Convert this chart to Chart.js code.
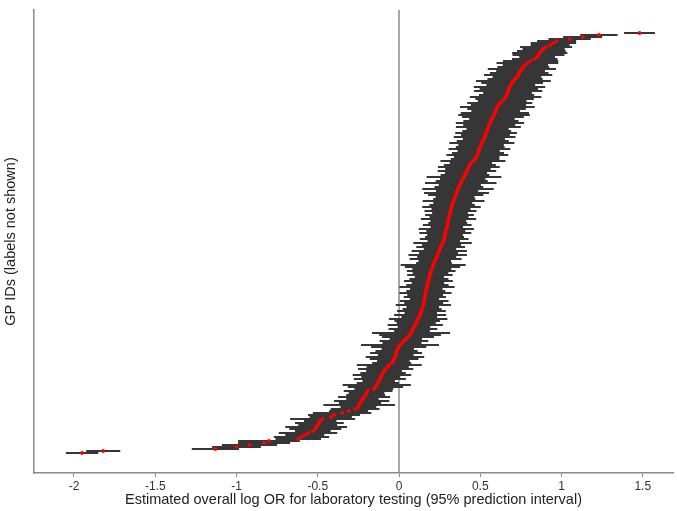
<!DOCTYPE html>
<html>
<head>
<meta charset="utf-8">
<script src="https://cdn.jsdelivr.net/npm/chart.js@4.4.0/dist/chart.umd.min.js"></script>
<style>
html,body{margin:0;padding:0;background:#fff;}
#c{display:block;}
</style>
</head>
<body>
<canvas id="c" width="677" height="511"></canvas>
<script>
// Estimated overall log OR per GP (sorted, bottom row first)
const estimates = [
-1.95,-1.82,-1.13,-1.00,-0.92,-0.83,-0.80,-0.62,-0.60,-0.58,
-0.56,-0.53,-0.515,-0.51,-0.50,-0.49,-0.485,-0.47,-0.42,-0.40,
-0.35,-0.31,-0.27,-0.25,-0.245,-0.24,-0.23,-0.225,-0.215,-0.205,
-0.20,-0.19,-0.155,-0.145,-0.137,-0.13,-0.125,-0.118,-0.112,-0.105,
-0.098,-0.092,-0.082,-0.070,-0.060,-0.045,-0.035,-0.030,-0.025,-0.020,
-0.018,-0.015,-0.008,-0.002,0.006,0.018,0.030,0.042,0.055,0.068,
0.074,0.080,0.086,0.092,0.100,0.106,0.112,0.118,0.125,0.130,
0.134,0.138,0.142,0.146,0.150,0.152,0.155,0.157,0.159,0.161,
0.163,0.165,0.168,0.172,0.175,0.178,0.181,0.184,0.187,0.190,
0.194,0.198,0.202,0.206,0.210,0.215,0.220,0.225,0.232,0.238,
0.243,0.248,0.252,0.256,0.262,0.268,0.275,0.278,0.280,0.283,
0.285,0.288,0.291,0.294,0.297,0.300,0.303,0.305,0.308,0.311,
0.314,0.317,0.320,0.323,0.327,0.331,0.336,0.340,0.345,0.349,
0.354,0.358,0.363,0.368,0.374,0.380,0.386,0.392,0.400,0.406,
0.412,0.418,0.424,0.430,0.436,0.442,0.455,0.468,0.478,0.482,
0.486,0.490,0.495,0.500,0.505,0.510,0.515,0.522,0.527,0.532,
0.536,0.540,0.545,0.550,0.555,0.560,0.566,0.572,0.578,0.585,
0.590,0.595,0.600,0.605,0.612,0.620,0.635,0.650,0.656,0.662,
0.668,0.672,0.676,0.680,0.688,0.696,0.704,0.714,0.726,0.733,
0.740,0.748,0.756,0.765,0.778,0.790,0.810,0.835,0.850,0.858,
0.866,0.876,0.890,0.905,0.930,0.950,0.970,1.05,1.13,1.23,
1.48
];
// Half-width of the 95% prediction interval per GP (same order)
const halfWidths = [
0.10,0.105,0.145,0.15,0.17,0.16,0.19,0.14,0.17,0.12,
0.18,0.11,0.16,0.19,0.12,0.15,0.10,0.20,0.13,0.16,
0.18,0.12,0.15,0.11,0.22,0.13,0.17,0.10,0.16,0.12,
0.11,0.15,0.12,0.17,0.21,0.13,0.10,0.16,0.12,0.18,
0.14,0.11,0.17,0.13,0.20,0.12,0.10,0.15,0.18,0.11,
0.16,0.13,0.10,0.17,0.24,0.12,0.15,0.10,0.16,0.19,
0.24,0.11,0.15,0.10,0.17,0.12,0.14,0.18,0.11,0.16,
0.10,0.15,0.12,0.10,0.17,0.12,0.15,0.09,0.13,0.11,
0.16,0.12,0.10,0.17,0.13,0.10,0.15,0.12,0.09,0.14,
0.11,0.15,0.12,0.17,0.20,0.11,0.10,0.16,0.12,0.18,
0.12,0.17,0.10,0.15,0.12,0.18,0.10,0.15,0.12,0.11,
0.16,0.12,0.17,0.10,0.15,0.12,0.11,0.17,0.12,0.15,
0.11,0.16,0.12,0.18,0.14,0.12,0.19,0.13,0.12,0.17,
0.20,0.13,0.22,0.15,0.13,0.22,0.16,0.14,0.23,0.15,
0.13,0.18,0.14,0.19,0.16,0.13,0.20,0.15,0.14,0.19,
0.16,0.13,0.19,0.15,0.14,0.20,0.16,0.13,0.19,0.15,
0.19,0.15,0.13,0.20,0.16,0.21,0.17,0.14,0.19,0.22,
0.21,0.15,0.18,0.23,0.17,0.20,0.15,0.18,0.22,0.17,
0.15,0.21,0.18,0.22,0.15,0.19,0.23,0.17,0.15,0.21,
0.18,0.15,0.21,0.16,0.14,0.19,0.17,0.14,0.11,0.16,
0.17,0.15,0.13,0.16,0.12,0.14,0.12,0.13,0.12,0.115,
0.095
];
const xTickValues = [-2, -1.5, -1, -0.5, 0, 0.5, 1, 1.5];
const xTitle = 'Estimated overall log OR for laboratory testing (95% prediction interval)';
const yTitle = 'GP IDs (labels not shown)';

const errData = [];
const ptData = [];
estimates.forEach((e, i) => {
  const row = i + 1;
  errData.push({x: e - halfWidths[i], y: row});
  errData.push({x: e + halfWidths[i], y: row});
  errData.push({x: NaN, y: row});
  ptData.push({x: e, y: row});
});
const Y_MIN = -9, Y_MAX = 222.5;

new Chart(document.getElementById('c'), {
  type: 'scatter',
  data: {
    datasets: [
      {
        data: [{x: 0, y: Y_MIN}, {x: 0, y: Y_MAX}],
        showLine: true, borderColor: '#8a8a8a', borderWidth: 1.5,
        pointRadius: 0, order: 3
      },
      {
        data: errData, showLine: true, spanGaps: false,
        borderColor: '#363636', borderWidth: 1.85, pointRadius: 0,
        order: 2
      },
      {
        data: ptData, pointRadius: 1.9, pointBackgroundColor: '#ff0000',
        pointBorderWidth: 0, borderColor: '#ff0000', order: 1
      }
    ]
  },
  options: {
    responsive: false, animation: false, devicePixelRatio: 1,
    layout: {padding: {top: 10, right: 0, left: 0, bottom: 0}},
    plugins: {legend: {display: false}, tooltip: {enabled: false}},
    scales: {
      x: {
        type: 'linear', min: -2.246, max: 1.686,
        afterBuildTicks: s => { s.ticks = xTickValues.map(v => ({value: v})); },
        afterFit: s => { s.height = 38; },
        grid: {display: true, drawOnChartArea: false, drawTicks: true, tickLength: 4, color: '#8a8a8a', lineWidth: 1},
        border: {display: true, color: '#8a8a8a', width: 1.5},
        ticks: {color: '#333', font: {family: 'Liberation Sans', size: 12}, padding: 2, maxRotation: 0,
                callback: v => String(v)},
        title: {display: true, text: xTitle, color: '#222',
                font: {family: 'Liberation Sans', size: 14.5}, padding: {top: 0, bottom: 2}}
      },
      y: {
        type: 'linear', min: Y_MIN, max: Y_MAX,
        afterFit: s => { s.width = 34; },
        grid: {display: false},
        border: {display: true, color: '#8a8a8a', width: 1.5},
        ticks: {display: false},
        title: {display: true, text: yTitle, color: '#222',
                font: {family: 'Liberation Sans', size: 14.5}, padding: {top: 2, bottom: 0}}
      }
    }
  }
});
</script>
</body>
</html>
